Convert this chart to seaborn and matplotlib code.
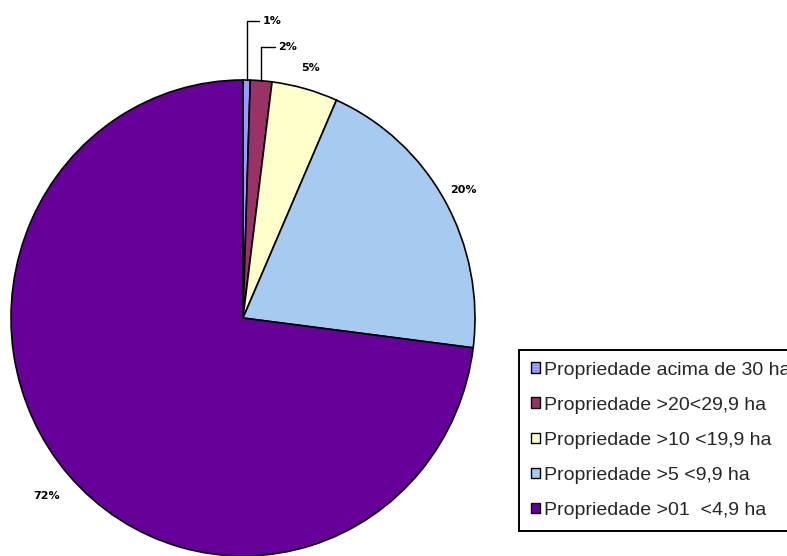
import matplotlib
matplotlib.use("Agg")
import matplotlib.pyplot as plt
import seaborn as sns
from matplotlib.patches import Patch
import numpy as np

# ---- data ----
categories = [
    "Propriedade acima de 30 ha",
    "Propriedade >20<29,9 ha",
    "Propriedade >10 <19,9 ha",
    "Propriedade >5 <9,9 ha",
    "Propriedade >01  <4,9 ha",
]
values = [0.5, 1.5, 4.6, 20.4, 73.0]
pct_labels = ["1%", "2%", "5%", "20%", "72%"]
colors_hex = ["#9999FF", "#993366", "#FFFFCC", "#A6CAF0", "#660099"]

sns.set_theme(style="white")
plt.rcParams['font.family'] = ['Liberation Sans', 'DejaVu Sans']
palette = sns.color_palette(colors_hex)

W, H = 787, 556
fig = plt.figure(figsize=(W / 100, H / 100), dpi=100)
fig.patch.set_facecolor("white")
ax = fig.add_axes([11 / W, 0, 464 / W, 476 / H])
wedges, _ = ax.pie(values, colors=palette, startangle=90, counterclock=False,
                   radius=1, wedgeprops=dict(edgecolor="black", linewidth=1.2))
ax.set_aspect("auto")
ax.set_xlim(-1, 1)
ax.set_ylim(-1, 1)
ax.axis("off")

label_kw = dict(fontsize=8, fontweight="bold", family="DejaVu Sans", color="black")
label_r = [None, None, 1.09, 1.09, 1.13]
leader_offsets = {0: (16, 59), 1: (17, 34)}
for i, w in enumerate(wedges):
    mid = np.deg2rad((w.theta1 + w.theta2) / 2)
    cx, cy = np.cos(mid), np.sin(mid)
    if i in leader_offsets:
        ax.annotate(pct_labels[i], xy=(cx, cy), xytext=leader_offsets[i],
                    textcoords="offset pixels", ha="left", va="center",
                    annotation_clip=False,
                    arrowprops=dict(arrowstyle="-", color="black", lw=1.0,
                                    shrinkA=0, shrinkB=0,
                                    connectionstyle="angle,angleA=0,angleB=90,rad=0"),
                    **label_kw)
    else:
        r = label_r[i]
        ax.text(r * cx, r * cy, pct_labels[i], ha="center", va="center",
                clip_on=False, **label_kw)

handles = [Patch(facecolor=c, edgecolor="black", linewidth=1.0) for c in palette]
leg = fig.legend(handles, categories, loc="upper left",
                 bbox_to_anchor=(519 / W, 1 - 350 / H), bbox_transform=fig.transFigure,
                 fontsize=14, frameon=True, fancybox=False, edgecolor="black",
                 framealpha=1, borderpad=0.6, labelspacing=0.93, handlelength=0.47,
                 handleheight=0.47, handletextpad=0.2, borderaxespad=0)
leg.get_frame().set_linewidth(1.4)

fig.savefig("out.png", dpi=100)
